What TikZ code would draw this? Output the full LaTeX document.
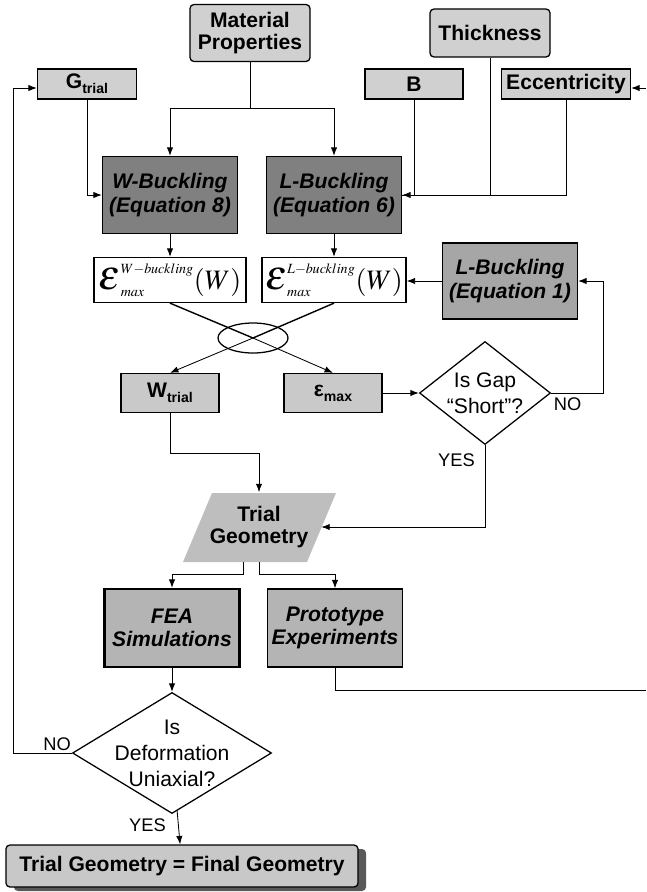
\documentclass[tikz,border=0pt]{standalone}
\usepackage{mathptmx}
\usepackage{graphicx}
\usepackage[no-math]{fontspec}
\setmainfont{Liberation Sans}
\usetikzlibrary{shapes.geometric,arrows.meta,calc,shadows}
\DeclareMathSizes{20}{20}{10}{7}

\newcommand{\lowtext}[1]{\raisebox{-0.45ex}{\fontsize{10}{10}\selectfont #1}}
\newcommand{\bigeps}{{\scalebox{1.5}{$\varepsilon$}}}

\tikzset{
  >={Latex[length=6pt,width=4.5pt]},
  link/.style={->, line width=0.6pt},
  wire/.style={line width=0.6pt},
  plainbox/.style={draw, line width=0.9pt, align=center, inner sep=0pt,
    font=\fontsize{15}{15.5}\selectfont\bfseries},
  inbox/.style={plainbox, fill=gray!37, minimum height=0.75cm},
  roundbox/.style={plainbox, fill=gray!37, rounded corners=0.1cm},
  eqbox/.style={plainbox, font=\fontsize{15}{16.5}\selectfont\bfseries\itshape,
    minimum width=3.375cm},
  mathbox/.style={plainbox, fill=white, minimum height=1.125cm, font=\fontsize{20}{21}\selectfont},
  outbox/.style={plainbox, fill=gray!42, minimum width=2.45cm, minimum height=0.975cm},
  decision/.style={draw, diamond, line width=0.9pt, align=center, inner sep=0pt,
    font=\fontsize{15}{18.5}\selectfont},
  lab/.style={font=\fontsize{13}{13}\selectfont, inner sep=0pt},
}

\begin{document}
\begin{tikzpicture}[x=0.025cm, y=-0.025cm]
\useasboundingbox (0,0) rectangle (646,892);

% inputs
\node[roundbox, minimum width=3cm, minimum height=1.425cm] (mat) at (250,33) {Material\\Properties};
\node[roundbox, minimum width=3cm, minimum height=1.2cm] (thk) at (490,33) {Thickness};
\node[inbox, minimum width=2.475cm] (gtr) at (87,84) {G\lowtext{trial}};
\node[inbox, minimum width=2.45cm] (bb) at (414,84) {B};
\node[inbox, minimum width=3.225cm] (ecc) at (566,84) {Eccentricity};

% buckling models
\node[eqbox, fill=gray, minimum height=1.925cm] (wbk) at (170,195) {W-Buckling\\(Equation 8)};
\node[eqbox, fill=gray, minimum height=1.925cm] (lbk) at (334,195) {L-Buckling\\(Equation 6)};
\node[eqbox, fill=gray!70, minimum height=1.9cm] (lbkone) at (510,281) {L-Buckling\\(Equation 1)};
\node[mathbox, minimum width=3.8cm] (epsw) at (170,280) {$\bigeps_{max}^{W-buckling}(W)$};
\node[mathbox, minimum width=3.6cm] (epsl) at (334,280) {$\bigeps_{max}^{L-buckling}(W)$};
\node[draw, ellipse, line width=0.9pt, minimum width=1.75cm, minimum height=0.75cm] (xing) at (253,338) {};

\node[outbox] (wtr) at (170,393) {W\lowtext{trial}};
\node[outbox] (emax) at (333,393) {ε\lowtext{max}};
\node[decision, minimum width=3.275cm, minimum height=2.575cm, inner xsep=-0.75cm, inner ysep=-0.6cm]
  (gap) at (485,393) {Is Gap\\“Short”?};

% trial geometry
\coordinate (tg) at (259,527);
\fill[gray!51] ($(tg)+(-47,-34)$) -- ($(tg)+(77,-34)$) -- ($(tg)+(48,35)$) -- ($(tg)+(-76,35)$) -- cycle;
\node[align=center, inner sep=0pt, minimum width=3.1cm, minimum height=1.725cm,
  font=\fontsize{15}{15.5}\selectfont\bfseries] (trial) at (tg) {Trial\\Geometry};

\node[eqbox, fill=gray!59, line width=1.6pt, minimum height=1.95cm] (fea) at (172,628) {FEA\\Simulations};
\node[eqbox, fill=gray!59, minimum height=1.95cm] (proto) at (335,628) {Prototype\\Experiments};
\node[decision, minimum width=4.975cm, minimum height=3.025cm, inner xsep=-1.45cm, inner ysep=-0.95cm]
  (defo) at (172,753) {Is\\Deformation\\Uniaxial?};
\node[roundbox, fill=gray!43, minimum width=8.8cm, minimum height=1.05cm,
  drop shadow={shadow xshift=0.2cm, shadow yshift=-0.1cm, fill=black!65, opacity=1}] (final) at (182,866)
  {Trial Geometry = Final Geometry};

\coordinate (eccend) at (646,88);
\coordinate (protoend) at (646,690);

% connectors
\coordinate (mfork) at (250,108);
\draw[wire] (mat.south) -- (mfork);
\draw[link] (mfork) -| (wbk.north);
\draw[link] (mfork) -| (lbk.north);
\draw[link] (gtr.south) |- (wbk.west);
\draw[wire] (bb.south) |- (lbk.east);
\draw[wire] (thk.south) |- (lbk.east);
\draw[link] (ecc.south) |- (lbk.east);
\draw[link] (eccend) -- (eccend -| ecc.east);

\draw[link] (wbk) -- (epsw);
\draw[link] (lbk) -- (epsl);
\draw[link] (lbkone.west) -- (lbkone.west -| epsl.east);

\draw[line width=1pt] (epsw.south) -- (xing.center);
\draw[line width=1pt] (epsl.south) -- (xing.center);
\draw[link] (xing.center) -- (emax.north);
\draw[link] (xing.center) -- (wtr.north);

\draw[link] (emax) -- (gap);
\draw[link] (gap.east) -- ++(52,0) |- (lbkone.east);
\node[lab, anchor=north west] at ([xshift=0.06cm, yshift=-0.1cm]gap.east) {NO};
\draw[link] (gap.south) |- (trial.east);
\node[lab, anchor=north east] at ([xshift=-0.25cm, yshift=-0.2cm]gap.south) {YES};
\draw[link] (wtr.south) -- ++(0,40) -| (trial.north);

\draw[link] ($(trial.south)+(-16,0)$) -- ++(0,13) -| (fea.north);
\draw[link] (trial.south) -- ++(0,13) -| (proto.north);
\draw[wire] (proto.south) |- (protoend);

\draw[link] (fea) -- (defo);
\draw[link] (defo.west) -- ++(-58,0) |- ([yshift=-0.1cm]gtr.west);
\node[lab, anchor=south east] at ([xshift=-0.02cm, yshift=0.05cm]defo.west) {NO};
\draw[link] (defo) -- (final);
\node[lab, anchor=north east] at ([xshift=-0.15cm, yshift=-0.1cm]defo.south) {YES};
\end{tikzpicture}
\end{document}
